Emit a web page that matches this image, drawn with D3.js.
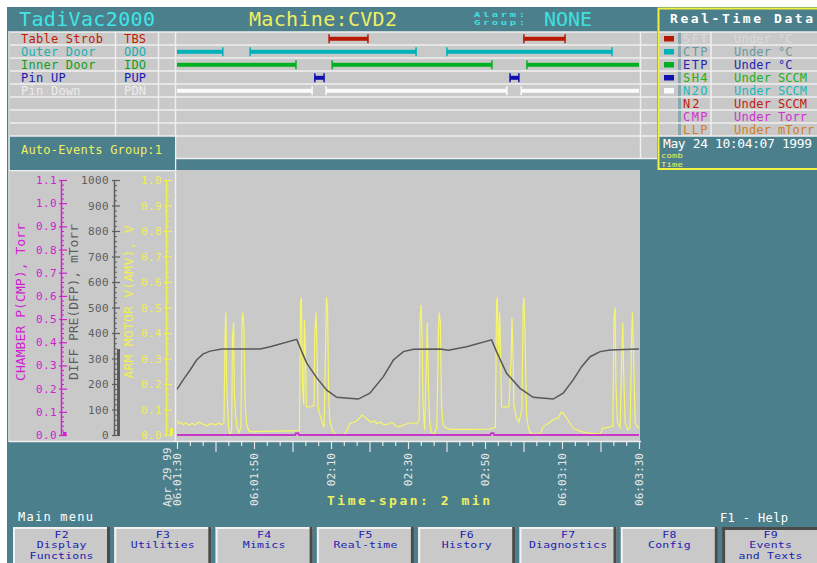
<!DOCTYPE html>
<html>
<head>
<meta charset="utf-8">
<title>TadiVac2000</title>
<script src="https://cdn.jsdelivr.net/npm/d3@7"></script>
<style>
  html, body { margin: 0; padding: 0; background: #ffffff; }
  svg { display: block; }
  text { font-family: "DejaVu Sans Mono", "Liberation Mono", monospace; }
</style>
</head>
<body>
<svg id="screen" width="817" height="563"></svg>
<script>
// ---------- event log ----------
const eventNames = ["Table Strob", "Outer Door", "Inner Door", "Pin UP", "Pin Down"];
const eventCodes = ["TBS", "ODO", "IDO", "PUP", "PDN"];
// on-intervals, seconds after 06:01:30
const tbsSpans = [[39.5, 49.6], [90.1, 100.8]];
const odoSpans = [[0, 11.9], [19.0, 62.1], [70.1, 113.0]];
const idoSpans = [[0, 30.9], [40.3, 81.8], [90.9, 120]];
const pupSpans = [[35.8, 38.2], [86.5, 88.8]];
const pdnSpans = [[0, 35.1], [38.7, 85.7], [89.4, 120]];
const eventSpans = [tbsSpans, odoSpans, idoSpans, pupSpans, pdnSpans];

// ---------- real-time data panel ----------
const rtCodes = ["SFT", "CTP", "ETP", "SH4", "N2O", "N2", "CMP", "LLP"];
const rtStates = ["Under", "Under", "Under", "Under", "Under", "Under", "Under", "Under"];
const rtUnits = ["°C", "°C", "°C", "SCCM", "SCCM", "SCCM", "Torr", "mTorr"];
const rtStamp = "May 24 10:04:07 1999";

// ---------- trend axes ----------
const cmpTicks = [0, 0.1, 0.2, 0.3, 0.4, 0.5, 0.6, 0.7, 0.8, 0.9, 1.0, 1.1];
const dfpTicks = [0, 100, 200, 300, 400, 500, 600, 700, 800, 900, 1000];
const amvTicks = [0, 0.1, 0.2, 0.3, 0.4, 0.5, 0.6, 0.7, 0.8, 0.9, 1.0];
const timeTickSecs = [0, 20, 40, 60, 80, 100, 120];
const timeTickLabels = ["06:01:30", "06:01:50", "02:10", "02:30", "02:50", "06:03:10", "06:03:30"];
const dateLabel = "Apr 29 99";

// ---------- trend series: [seconds after 06:01:30, value] ----------
const dfpSeries = [
  [0, 179], [1.6, 216], [3.4, 255], [5.1, 294], [6.8, 318], [8.6, 329], [11.6, 337], [15.5, 337],
  [21.6, 337], [24.2, 346], [31.1, 375], [32.4, 327], [33.7, 282], [36.3, 224], [38.9, 176],
  [41.5, 148], [44.5, 144], [47.1, 141], [50.1, 164], [53.6, 229], [56.2, 294], [58.8, 327],
  [61.4, 336], [68.3, 337], [70.5, 332], [75.2, 346], [81.7, 373], [83.0, 327], [85.6, 242],
  [89.1, 183], [92.5, 148], [97.7, 141], [100.3, 164], [102.9, 216], [105.1, 268], [107.3, 307],
  [109.9, 327], [112.5, 333], [119.8, 337], [120, 337]
];
const amvSeries = [
  [0, 0.059], [0.5, 0.045], [1.0, 0.05], [1.6, 0.04], [2.3, 0.048], [3.1, 0.038], [3.9, 0.045],
  [4.7, 0.04], [5.7, 0.05], [6.8, 0.042], [7.8, 0.036], [8.8, 0.045], [9.9, 0.04], [10.9, 0.046],
  [11.7, 0.04], [12.2, 0.05], [12.5, 0.40], [12.7, 0.48], [12.9, 0.2], [13.1, 0.12], [13.4, 0.03],
  [13.8, 0.0], [14.2, 0.02], [14.4, 0.38], [14.7, 0.44], [14.9, 0.16], [15.2, 0.08], [15.6, 0.03],
  [16.1, 0.01], [16.6, 0.03], [16.9, 0.46], [17.1, 0.48], [17.4, 0.42], [17.7, 0.12], [18.1, 0.04],
  [18.7, 0.015], [19.5, 0.012], [21.6, 0.014], [25.5, 0.015], [29.4, 0.016], [31.8, 0.017],
  [32.1, 0.52], [32.3, 0.54], [32.6, 0.20], [32.9, 0.12], [33.1, 0.45], [33.4, 0.3], [33.6, 0.11],
  [34.5, 0.11], [35.6, 0.115], [35.8, 0.40], [36.1, 0.48], [36.4, 0.30], [36.6, 0.12], [36.9, 0.09],
  [37.7, 0.05], [38.2, 0.03], [38.6, 0.35], [38.8, 0.54], [39.1, 0.5], [39.4, 0.15], [39.7, 0.06],
  [40.3, 0.02], [41.0, 0.005], [41.8, 0.0], [43.4, 0.0], [44.2, 0.02], [44.9, 0.045], [46.0, 0.05],
  [47.0, 0.06], [48.1, 0.078], [48.8, 0.07], [49.6, 0.06], [50.4, 0.05], [51.2, 0.055], [51.9, 0.045],
  [52.7, 0.05], [53.8, 0.04], [54.8, 0.042], [55.8, 0.05], [56.9, 0.035], [57.9, 0.033], [59.0, 0.04],
  [60.0, 0.045], [61.3, 0.048], [62.3, 0.043], [62.9, 0.06], [63.1, 0.45], [63.4, 0.51], [63.6, 0.42],
  [63.9, 0.12], [64.3, 0.02], [64.8, 0.3], [65.0, 0.44], [65.3, 0.2], [65.6, 0.06], [66.0, 0.01],
  [66.8, 0.005], [67.5, 0.03], [67.9, 0.40], [68.1, 0.48], [68.4, 0.44], [68.7, 0.12], [69.1, 0.04],
  [69.6, 0.03], [70.9, 0.022], [76.1, 0.022], [81.3, 0.023], [82.7, 0.03], [83.0, 0.52], [83.2, 0.54],
  [83.5, 0.3], [83.8, 0.48], [84.0, 0.35], [84.3, 0.11], [85.2, 0.11], [86.2, 0.11], [86.8, 0.3],
  [87.0, 0.46], [87.3, 0.3], [87.5, 0.12], [88.1, 0.07], [88.8, 0.05], [89.6, 0.1], [89.9, 0.50],
  [90.1, 0.54], [90.4, 0.4], [90.8, 0.08], [91.2, 0.033], [91.7, 0.01], [92.5, 0.004], [94.3, 0.004],
  [95.1, 0.033], [96.4, 0.045], [97.7, 0.06], [99.0, 0.067], [99.7, 0.088], [100.3, 0.085],
  [101.2, 0.067], [102.1, 0.045], [102.9, 0.027], [104.7, 0.015], [106.4, 0.008], [109.9, 0.004],
  [110.6, 0.027], [112.0, 0.03], [113.2, 0.035], [113.5, 0.46], [113.8, 0.5], [114.0, 0.2],
  [114.4, 0.05], [115.1, 0.03], [115.5, 0.3], [115.8, 0.44], [116.0, 0.25], [116.4, 0.05],
  [117.1, 0.02], [117.7, 0.03], [118.1, 0.40], [118.3, 0.48], [118.6, 0.3], [119.0, 0.05],
  [119.6, 0.03], [120, 0.027]
];
const cmpSeries = [
  [0, 0], [30.7, 0], [30.9, 0.008], [31.5, 0.008], [31.7, 0], [81.4, 0], [81.6, 0.008],
  [82.2, 0.008], [82.4, 0], [120, 0]
];

// ---------- function key bar ----------
const fnKeys = ["F2", "F3", "F4", "F5", "F6", "F7", "F8", "F9"];
const fnTexts = [["Display", "Functions"], ["Utilities"], ["Mimics"], ["Real-time"],
                 ["History"], ["Diagnostics"], ["Config"], ["Events", "and Texts"]];

// ---------- palette ----------
const TEAL = "#4b7f8b", CELL = "#c9c9c9", GRID = "#efefef";
const eventTextColors = ["#c02000", "#20b0b0", "#10a020", "#1818b0", "#ececec"];
const eventBarColors = ["#b81800", "#00b2ba", "#00b020", "#1010b0", "#fafafa"];
const rtTextColors = ["#dadada", "#6d989e", "#2525b5", "#20b020", "#20b8b8", "#c02010", "#d030d0", "#d08028"];
const CMP_C = "#d020d0", DFP_C = "#5e5e5e", AMV_C = "#f0f050", TXT_Y = "#f0f060";

const svg = d3.select("#screen");

function label(g, str, x, y, o = {}) {
  const t = g.append("text").attr("x", x).attr("y", y).text(str)
    .attr("fill", o.fill || "#fff")
    .attr("font-size", o.size || 12)
    .attr("text-anchor", o.anchor || "start");
  if (o.weight) t.attr("font-weight", o.weight);
  if (o.len) t.attr("textLength", o.len).attr("lengthAdjust", "spacing");
  if (o.transform) t.attr("transform", o.transform);
  return t;
}

// stacked lines in the squat, wide screen font (vertically scaled by `squash`)
function block(g, lines, x, y, lineH, o = {}) {
  const s = o.squash || 1;
  const holder = g.append("g").attr("transform", `translate(${x},${y}) scale(1,${s})`);
  lines.forEach((ln, j) => {
    const t = holder.append("text").attr("x", 0).attr("y", j * lineH / s).text(ln)
      .attr("fill", o.fill || "#fff")
      .attr("font-size", o.size || 12)
      .attr("text-anchor", o.anchor || "start");
    if (o.weight) t.attr("font-weight", o.weight);
    if (o.charW) t.attr("textLength", ln.length * o.charW).attr("lengthAdjust", "spacing");
  });
  return holder;
}

// ---------- backgrounds ----------
svg.append("rect").attr("x", 7).attr("y", 7).attr("width", 810).attr("height", 556).attr("fill", TEAL);

// event table block
svg.append("rect").attr("x", 10).attr("y", 32).attr("width", 647).attr("height", 104).attr("fill", CELL);
svg.append("rect").attr("x", 176).attr("y", 136).attr("width", 481).attr("height", 23).attr("fill", CELL);
// trend block
svg.append("rect").attr("x", 10).attr("y", 170).attr("width", 630).attr("height", 271).attr("fill", CELL);

const grid = svg.append("g").attr("stroke", GRID).attr("stroke-width", 1.5);
for (let k = 0; k <= 8; k++) {
  grid.append("line").attr("x1", 10).attr("x2", 657).attr("y1", 32 + 13 * k).attr("y2", 32 + 13 * k);
}
grid.append("line").attr("x1", 176).attr("x2", 657).attr("y1", 158.5).attr("y2", 158.5);
[115.5, 158.5].forEach(xv => grid.append("line").attr("x1", xv).attr("x2", xv).attr("y1", 32).attr("y2", 136));
grid.append("line").attr("x1", 640.5).attr("x2", 640.5).attr("y1", 32).attr("y2", 158.5);
grid.append("line").attr("x1", 175.5).attr("x2", 175.5).attr("y1", 32).attr("y2", 441);
grid.append("line").attr("x1", 9).attr("x2", 9).attr("y1", 31).attr("y2", 442);
grid.append("line").attr("x1", 9).attr("x2", 175).attr("y1", 170.5).attr("y2", 170.5);
grid.append("line").attr("x1", 9).attr("x2", 641).attr("y1", 441.5).attr("y2", 441.5);

// auto events group panel
svg.append("rect").attr("x", 10).attr("y", 137).attr("width", 165).attr("height", 33).attr("fill", TEAL);
label(svg, "Auto-Events Group:1", 21, 154, { fill: TXT_Y, size: 12, len: 141 });

// ---------- header ----------
label(svg, "TadiVac2000", 19, 26, { fill: "#40e6e6", size: 20, len: 136 });
label(svg, "Machine:CVD2", 249, 26, { fill: TXT_Y, size: 20, len: 148 });
block(svg, ["Alarm:", "Group:"], 474, 16.5, 8.8, { fill: "#40e0e0", size: 10.5, weight: "bold", charW: 8.5, squash: 0.72 });
label(svg, "NONE", 544, 25.5, { fill: "#40e0e0", size: 20, len: 48 });

// ---------- time scale ----------
const x = d3.scaleLinear().domain([0, 120]).range([177, 639]);

// ---------- event rows ----------
eventNames.forEach((name, i) => {
  const top = 32 + 13 * i;
  label(svg, name, 21, top + 10.5, { fill: eventTextColors[i], size: 12, len: name.length * 7.45 });
  label(svg, eventCodes[i], 124, top + 10.5, { fill: eventTextColors[i], size: 12, len: 22 });
  const cy = top + 6.8;
  const g = svg.append("g").attr("fill", eventBarColors[i]).attr("stroke", eventBarColors[i]);
  eventSpans[i].forEach(([s, e]) => {
    g.append("rect").attr("x", x(s)).attr("y", cy - 2).attr("width", x(e) - x(s)).attr("height", 4).attr("stroke", "none");
    [s, e].forEach(t => {
      if (t > 0 && t < 120) {
        g.append("line").attr("x1", x(t)).attr("x2", x(t)).attr("y1", cy - 4.5).attr("y2", cy + 4.5).attr("stroke-width", 1.5);
      }
    });
  });
});

// ---------- real-time data panel ----------
const rt = svg.append("g");
rt.append("rect").attr("x", 659).attr("y", 32).attr("width", 158).attr("height", 104).attr("fill", CELL);
rt.append("rect").attr("x", 678).attr("y", 32).attr("width", 3).attr("height", 104).attr("fill", "#8aa7ad");
for (let k = 0; k <= 8; k++) {
  rt.append("line").attr("x1", 659).attr("x2", 817).attr("y1", 32 + 13 * k).attr("y2", 32 + 13 * k)
    .attr("stroke", GRID).attr("stroke-width", 1.5);
}
rt.append("line").attr("x1", 711).attr("x2", 711).attr("y1", 32).attr("y2", 136).attr("stroke", GRID).attr("stroke-width", 1.5);
rtCodes.forEach((code, i) => {
  const top = 32 + 13 * i;
  if (i < eventBarColors.length) {
    rt.append("rect").attr("x", 664).attr("y", top + 4).attr("width", 10).attr("height", 5.5).attr("fill", eventBarColors[i]);
  }
  label(rt, code, 683, top + 10.5, { fill: rtTextColors[i], size: 12, len: code.length * 8.2 });
  label(rt, rtStates[i], 734, top + 10.5, { fill: rtTextColors[i], size: 12, len: 37 });
  label(rt, rtUnits[i], 778, top + 10.5, { fill: rtTextColors[i], size: 12 });
});
label(svg, "Real-Time Data", 670, 22.5, { fill: "#ffffff", size: 13, weight: "bold", len: 143 });
label(svg, rtStamp, 663, 148, { fill: "#ffffff", size: 13, len: 149 });
block(svg, ["comb", "Time"], 661, 157.5, 9.5, { fill: TXT_Y, size: 9, charW: 5.5, squash: 0.85 });
svg.append("path").attr("d", "M817,8.5 H658.5 V169 H817")
  .attr("fill", "none").attr("stroke", "#f2f040").attr("stroke-width", 2);

// ---------- value axes ----------
const yCmp = d3.scaleLinear().domain([0, 1.1]).range([435, 180]);
const yDfp = d3.scaleLinear().domain([0, 1000]).range([435, 180]);
const yAmv = d3.scaleLinear().domain([0, 1.0]).range([435, 180]);

function valueAxis(scale, xPos, major, step, color, fmt, pad) {
  const minor = d3.range(0, major.length - 1).flatMap(i => [1, 2, 3, 4].map(j => major[i] + j * step / 5));
  const gm = svg.append("g").attr("transform", `translate(${xPos},0)`)
    .call(d3.axisLeft(scale).tickValues(minor).tickSize(-3).tickFormat(""));
  gm.select(".domain").remove();
  gm.selectAll(".tick line").attr("stroke", color).attr("stroke-width", 1);
  const g = svg.append("g").attr("transform", `translate(${xPos},0)`)
    .call(d3.axisLeft(scale).tickValues(major).tickSizeInner(-6).tickSizeOuter(0).tickPadding(pad).tickFormat(fmt));
  g.select(".domain").attr("stroke", color).attr("stroke-width", 1.5);
  g.selectAll(".tick line").attr("stroke", color).attr("stroke-width", 1.2).attr("x1", -2);
  g.selectAll(".tick text").attr("fill", color).attr("font-size", 11)
    .attr("font-family", "DejaVu Sans Mono, monospace").attr("letter-spacing", 0.4);
}
valueAxis(yCmp, 61, cmpTicks, 0.1, CMP_C, d3.format(".1f"), 4);
valueAxis(yDfp, 114, dfpTicks, 100, DFP_C, d3.format("d"), 5);
valueAxis(yAmv, 166, amvTicks, 0.1, AMV_C, d3.format(".1f"), 4);

// axis titles
label(svg, "CHAMBER P(CMP), Torr", 25, 302, { fill: CMP_C, size: 13, anchor: "middle", len: 158, transform: "rotate(-90,25,302)" });
label(svg, "DIFF PRE(DFP), mTorr", 78, 302, { fill: DFP_C, size: 13, anchor: "middle", len: 156, transform: "rotate(-90,78,302)" });
label(svg, "ARM MOTOR V(AMV), V", 133, 302, { fill: AMV_C, size: 13, anchor: "middle", len: 153, transform: "rotate(-90,133,302)" });

// live value bars beside each axis
const lastOf = s => s[s.length - 1][1];
function liveBar(scale, value, x0, w, color) {
  const y0 = scale(value), h = Math.max(3, scale(0) - y0);
  svg.append("rect").attr("x", x0).attr("y", scale(0) - h).attr("width", w).attr("height", h).attr("fill", color);
}
liveBar(yCmp, lastOf(cmpSeries), 63, 3.5, CMP_C);
liveBar(yDfp, lastOf(dfpSeries), 117, 3, "#5a5a5a");
liveBar(yAmv, lastOf(amvSeries), 170, 3, AMV_C);

// ---------- trend lines ----------
svg.append("clipPath").attr("id", "plotClip").append("rect")
  .attr("x", 176.5).attr("y", 171).attr("width", 463.5).attr("height", 270);
const plot = svg.append("g").attr("clip-path", "url(#plotClip)");
plot.append("path").datum(amvSeries).attr("fill", "none").attr("stroke", "#f6f668").attr("stroke-width", 1.2)
  .attr("d", d3.line().x(d => x(d[0])).y(d => yAmv(d[1])));
plot.append("path").datum(dfpSeries).attr("fill", "none").attr("stroke", "#585858").attr("stroke-width", 1.5)
  .attr("d", d3.line().x(d => x(d[0])).y(d => yDfp(d[1])));
plot.append("path").datum(cmpSeries).attr("fill", "none").attr("stroke", "#c838c8").attr("stroke-width", 2)
  .attr("d", d3.line().x(d => x(d[0])).y(d => yCmp(d[1])));

// ---------- time axis ----------
const minorSecs = d3.range(0, 37).map(i => i * 10 / 3);
const ta = svg.append("g").attr("transform", "translate(0,442)")
  .call(d3.axisBottom(x).tickValues(minorSecs).tickSize(4).tickFormat(""));
ta.select(".domain").remove();
ta.selectAll(".tick line").attr("stroke", "#e6e6e6").attr("stroke-width", 1.2)
  .attr("y2", d => (Math.round(d * 3) % 60 === 30 ? 10 : (Math.round(d * 3) % 60 === 0 ? 7 : 4)));
timeTickSecs.forEach((t, i) => {
  const tx = x(t) + 4;
  label(svg, timeTickLabels[i], tx, 453, { fill: "#e8e8e8", size: 11, anchor: "end", transform: `rotate(-90,${tx},453)` });
});
label(svg, dateLabel, x(0) - 6, 507, { fill: "#e8e8e8", size: 11, anchor: "start", transform: `rotate(-90,${x(0) - 6},507)` });
label(svg, "Time-span: 2 min", 327, 505, { fill: TXT_Y, size: 13, weight: "bold", len: 163 });

// ---------- footer ----------
label(svg, "Main  menu", 18, 521, { fill: "#ffffff", size: 12, len: 75 });
label(svg, "F1 - Help", 720, 522, { fill: "#ffffff", size: 12, len: 68 });
fnKeys.forEach((key, i) => {
  const bx = 13 + i * 101.3, by = 527, bw = i === fnKeys.length - 1 ? 817 - bx : 97, bh = 40;
  const pressed = i === fnKeys.length - 1;
  const b = svg.append("g");
  b.append("rect").attr("x", bx).attr("y", by).attr("width", bw).attr("height", bh).attr("fill", CELL);
  const lite = "#f2f2f2", dark = "#4a4a4a";
  b.append("rect").attr("x", bx).attr("y", by).attr("width", bw).attr("height", pressed ? 3 : 2).attr("fill", pressed ? dark : lite);
  b.append("rect").attr("x", bx).attr("y", by).attr("width", pressed ? 3 : 2).attr("height", bh).attr("fill", pressed ? dark : lite);
  if (!pressed) b.append("rect").attr("x", bx + bw - 3).attr("y", by).attr("width", 3).attr("height", bh).attr("fill", dark);
  const cx = bx + bw / 2 + (pressed ? 1 : 0);
  block(b, [key].concat(fnTexts[i]), cx, by + 10.5, 10.8, { fill: "#1c1cb0", size: 11.5, anchor: "middle", charW: 7.1, squash: 0.8 });
});
</script>
</body>
</html>
